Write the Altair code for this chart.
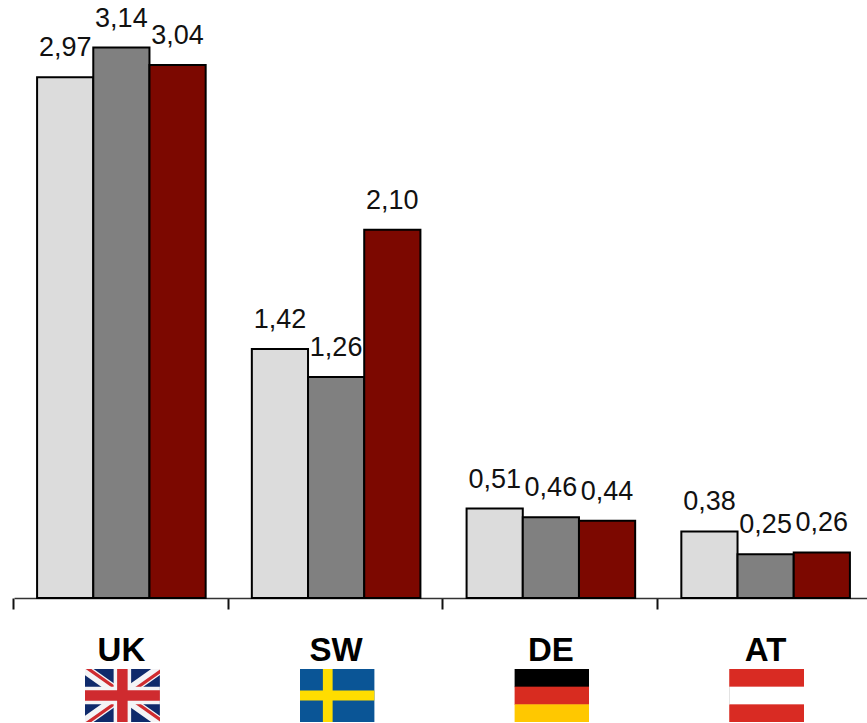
import base64

import altair as alt
import pandas as pd

# Country groups and the three values shown for each one
countries = ["UK", "SW", "DE", "AT"]
series_names = ["A", "B", "C"]
series_a = [2.97, 1.42, 0.51, 0.38]
series_b = [3.14, 1.26, 0.46, 0.25]
series_c = [3.04, 2.10, 0.44, 0.26]
series_colors = ["#dcdcdc", "#808080", "#7c0800"]


def svg_url(body, view="0 0 60 42"):
    svg = (
        f'<svg xmlns="http://www.w3.org/2000/svg" viewBox="{view}" '
        f'preserveAspectRatio="none">{body}</svg>'
    )
    return "data:image/svg+xml;base64," + base64.b64encode(svg.encode()).decode()


def stripes(top, middle, bottom, edge=""):
    return svg_url(
        f'<rect width="60" height="14.4" fill="{top}"/>'
        f'<rect y="14" width="60" height="14.4" fill="{middle}"/>'
        f'<rect y="28" width="60" height="14" fill="{bottom}"/>'
        f"{edge}"
    )


flag_uk = svg_url(
    '<rect width="60" height="42" fill="#0f2a6b"/>'
    '<path d="M0 0L60 42M60 0L0 42" stroke="#f4f4f6" stroke-width="8"/>'
    '<path d="M0 0L30 21M60 42L30 21" stroke="#cf2b2f" stroke-width="2.6" transform="translate(1.2 -1.2)"/>'
    '<path d="M60 0L30 21M0 42L30 21" stroke="#cf2b2f" stroke-width="2.6" transform="translate(1.2 1.2)"/>'
    '<path d="M30 0V42M0 21H60" stroke="#f4f4f6" stroke-width="14"/>'
    '<path d="M30 0V42M0 21H60" stroke="#cf2b2f" stroke-width="8.4"/>'
)
flag_sw = svg_url(
    '<rect width="60" height="42" fill="#0a5596"/>'
    '<path d="M22.5 0V42M0 21H60" stroke="#ffdd00" stroke-width="7.8"/>'
)
flag_de = stripes("#000000", "#d82c20", "#ffc800")
flag_at = stripes(
    "#d92b23", "#ffffff", "#d92b23",
    edge='<rect y="14.4" width="0.5" height="13.6" fill="#cccccc"/>',
)
flags = [flag_uk, flag_sw, flag_de, flag_at]

rows = []
for name, values in zip(series_names, [series_a, series_b, series_c]):
    for country, value in zip(countries, values):
        rows.append(
            {
                "country": country,
                "series": name,
                "value": value,
                "label": f"{value:.2f}".replace(".", ","),
            }
        )
bars_df = pd.DataFrame(rows)
groups_df = pd.DataFrame({"country": countries, "flag": flags})

FONT = "Liberation Sans"

x_scale = alt.Scale(domain=countries, range=[14, 873], paddingInner=0.215, paddingOuter=0.1075)
x_enc = alt.X(
    "country:N",
    scale=x_scale,
    title=None,
    axis=alt.Axis(
        labels=False,
        grid=False,
        bandPosition=0,
        tickOffset=-24.1,
        tickSize=11,
        tickWidth=2,
        tickColor="#111111",
        domainColor="#333333",
        domainWidth=1.5,
    ),
)
x_offset = alt.XOffset("series:N", scale=alt.Scale(domain=series_names))
y_enc = alt.Y("value:Q", scale=alt.Scale(domain=[0, 3.411]), axis=None)

bars = (
    alt.Chart(bars_df)
    .mark_bar(stroke="#000000", strokeWidth=2)
    .encode(
        x=x_enc,
        xOffset=x_offset,
        y=y_enc,
        fill=alt.Fill(
            "series:N",
            scale=alt.Scale(domain=series_names, range=series_colors),
            legend=None,
        ),
    )
)

value_labels = (
    alt.Chart(bars_df)
    .mark_text(font=FONT, fontSize=27, color="#111111", baseline="alphabetic", dy=-21)
    .encode(x=x_enc, xOffset=x_offset, y=y_enc, text="label:N")
)

country_labels = (
    alt.Chart(groups_df)
    .mark_text(font=FONT, fontSize=33, fontWeight="bold", color="#000000", baseline="alphabetic")
    .encode(x=x_enc, y=alt.value(661), text="country:N")
)

flag_images = (
    alt.Chart(groups_df)
    .mark_image(width=75, height=53, aspect=False, align="center", baseline="top", xOffset=1)
    .encode(x=x_enc, y=alt.value(669), url=alt.Url("flag:N"))
)

chart = (
    alt.layer(bars, value_labels, country_labels, flag_images)
    .properties(
        width=867,
        height=598,
        autosize=alt.AutoSizeParams(type="none"),
        padding={"left": 0, "top": 0, "right": 0, "bottom": 125},
        background="#ffffff",
    )
    .configure_view(stroke=None)
)

chart.save("out.html", embed_options={"renderer": "svg", "actions": False})
